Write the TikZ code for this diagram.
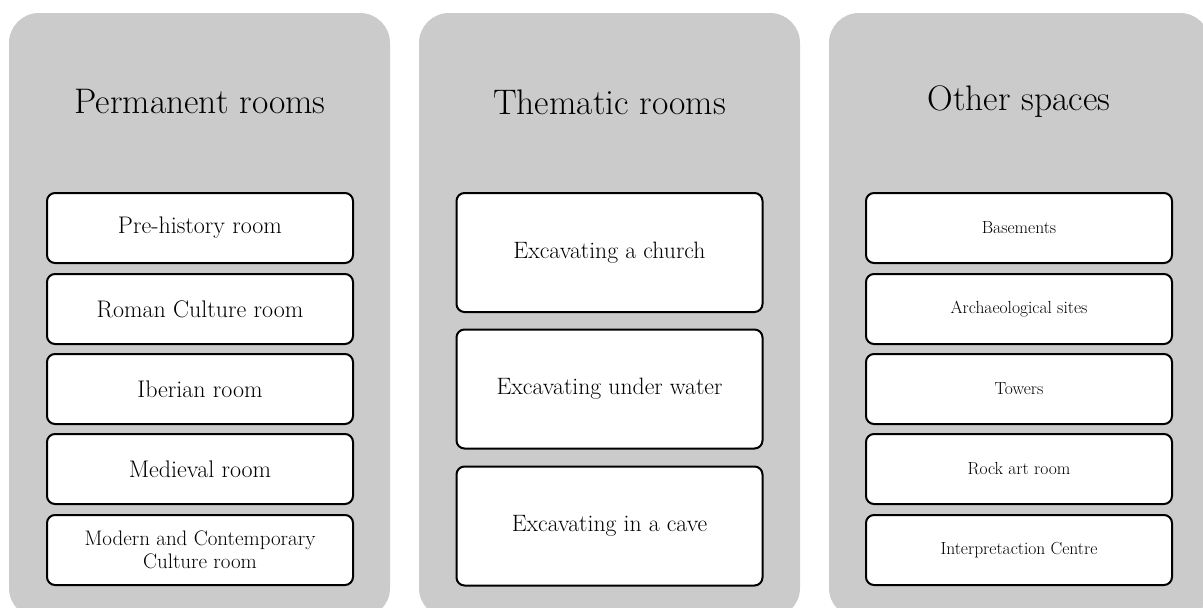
\documentclass[tikz,border=0pt]{standalone}
\definecolor{panelgray}{RGB}{203,203,203}
\begin{document}
\begin{tikzpicture}[x=1pt,y=-1pt]
	\tikzstyle{panel}=[fill=panelgray, rounded corners=30pt]
	\tikzstyle{title}=[font=\fontsize{35.5}{42}\selectfont]
	\tikzstyle{room}=[rectangle, draw=black, fill=white, line width=2pt, rounded corners=8pt, minimum width=306pt, minimum height=70pt, align=center, font=\fontsize{24}{28}\selectfont]
	\tikzstyle{bigroom}=[room, minimum height=119pt, font=\fontsize{23.7}{28}\selectfont]
	\tikzstyle{smallroom}=[room, font=\fontsize{17.5}{22}\selectfont]
	\useasboundingbox (0,0) rectangle (1203,608);
	
	\fill[panel] (9,13) rectangle (390,618);
	\fill[panel] (419,13) rectangle (800,618);
	\fill[panel] (829,13) rectangle (1210,618);
	
	\draw node[title] at (200, 102) (permanent) {Permanent rooms};
	\draw node[title] at (609.5, 102) (thematic) {Thematic rooms};
	\draw node[title] at (1019, 102) (other) {Other spaces};
	
	\draw node[room] at (200, 228) (prehistory) {Pre-history room};
	\draw node[room] at (200, 309) (roman) {Roman Culture room};
	\draw node[room] at (200, 389) (iberian) {Iberian room};
	\draw node[room] at (200, 469) (medieval) {Medieval room};
	\draw node[room, font=\fontsize{21}{23}\selectfont] at (200, 550) (modern) {Modern and Contemporary\\Culture room};
	
	\draw node[bigroom] at (609.5, 252.5) (church) {Excavating a church};
	\draw node[bigroom] at (609.5, 389) (water) {Excavating under water};
	\draw node[bigroom] at (609.5, 526) (cave) {Excavating in a cave};
	
	\draw node[smallroom] at (1019, 228) (basements) {Basements};
	\draw node[smallroom] at (1019, 309) (sites) {Archaeological sites};
	\draw node[smallroom] at (1019, 389) (towers) {Towers};
	\draw node[smallroom] at (1019, 469) (rockart) {Rock art room};
	\draw node[smallroom] at (1019, 550) (centre) {Interpretaction Centre};
\end{tikzpicture}
\end{document}
